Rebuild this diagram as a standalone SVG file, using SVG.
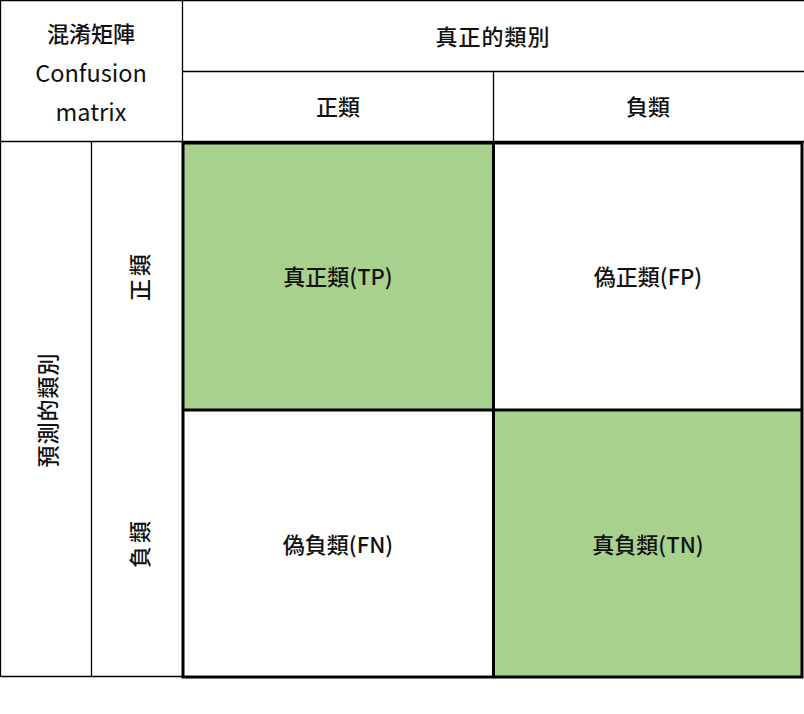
<svg xmlns="http://www.w3.org/2000/svg" width="804" height="714" viewBox="0 0 804 714">
<style>
text{font-family:"Noto Sans CJK TC","Noto Sans",sans-serif;font-size:22px;font-weight:500;fill:#111;text-anchor:middle;dominant-baseline:central}
.lat{font-size:23.5px;font-weight:400}
.thin{stroke:#000;stroke-width:1.3;fill:none}
.thick{stroke:#000;stroke-width:3;fill:none}
.hit{fill:#A9D18E}
</style>
<rect width="804" height="714" fill="#fff"/>
<g id="cells">
<rect class="hit" x="183" y="143" width="310" height="267"/>
<rect class="hit" x="493" y="410" width="309" height="267"/>
</g>
<g id="connectors">
<path class="thin" d="M0,0.5H804M0.5,0V677M182.5,0V143M182,71.5H804M493.5,71V143M0,141.5H804M91.5,141V677M0,676.5H183"/>
<rect class="thick" x="183" y="143" width="619" height="534"/>
<path class="thick" d="M493.5,143V677M183,410H802"/>
</g>
<g id="corner"><text x="91" y="32">混淆矩陣</text><text class="lat" x="91" y="72">Confusion</text><text class="lat" x="91" y="111">matrix</text></g>
<g id="actual"><text x="493" y="35" letter-spacing="1">真正的類別</text></g>
<g id="actual-pos"><text x="338" y="105">正類</text></g>
<g id="actual-neg"><text x="648" y="105">負類</text></g>
<g id="pred"><text transform="translate(46,410) rotate(-90)" letter-spacing="1">預測的類別</text></g>
<g id="pred-pos"><text transform="translate(138,276) rotate(-90)" letter-spacing="3">正類</text></g>
<g id="pred-neg"><text transform="translate(138,543) rotate(-90)" letter-spacing="3">負類</text></g>
<g id="tp"><text x="338" y="275">真正類(TP)</text></g>
<g id="fp"><text x="648" y="275">偽正類(FP)</text></g>
<g id="fn"><text x="338" y="543">偽負類(FN)</text></g>
<g id="tn"><text x="648" y="543">真負類(TN)</text></g>
</svg>
